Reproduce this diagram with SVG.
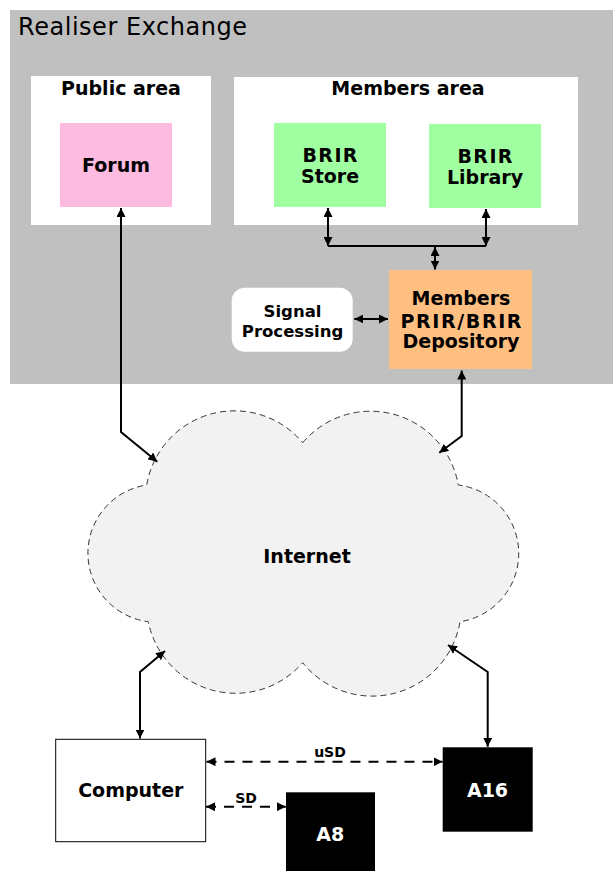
<svg xmlns="http://www.w3.org/2000/svg" width="613" height="871" viewBox="0 0 613 871">
<style>
  .t { font-family: "DejaVu Sans", Verdana, sans-serif; font-weight: bold; font-size: 19px; fill: #000; text-anchor: middle; }
  .w { fill: #fff; }
  .small { font-size: 14px; }
  .sp { font-size: 16.5px; }
  .c { fill: none; stroke: #000; stroke-width: 2; marker-start: url(#ah); marker-end: url(#ah); }
  .d { stroke-dasharray: 10 8; }
</style>
<defs>
  <marker id="ah" viewBox="0 0 10 10" refX="10" refY="5" markerWidth="9" markerHeight="9" markerUnits="userSpaceOnUse" orient="auto-start-reverse">
    <path d="M0,0 L10,5 L0,10 z" fill="#000"/>
  </marker>
</defs>
<rect width="613" height="871" fill="#fff"/>
<g id="realiser-exchange">
  <rect x="10" y="10" width="603" height="374" fill="#c0c0c0"/>
  <text x="18" y="35" font-family="DejaVu Sans, Verdana, sans-serif" font-size="24" textLength="229" fill="#000">Realiser Exchange</text>
</g>
<g id="public-area">
  <rect x="31" y="76" width="180" height="149" fill="#fff"/>
  <text class="t" x="121" y="95">Public area</text>
</g>
<g id="forum">
  <rect x="60" y="123" width="112" height="84" fill="#fdbcdf"/>
  <text class="t" x="116" y="172">Forum</text>
</g>
<g id="members-area">
  <rect x="234" y="77" width="344" height="148" fill="#fff"/>
  <text class="t" x="408" y="95">Members area</text>
</g>
<g id="brir-store">
  <rect x="274" y="123" width="112" height="84" fill="#a0ffa0"/>
  <text class="t" x="330" y="162" textLength="55">BRIR</text>
  <text class="t" x="330" y="183">Store</text>
</g>
<g id="brir-library">
  <rect x="429" y="124" width="112" height="84" fill="#a0ffa0"/>
  <text class="t" x="485" y="162.5" textLength="55">BRIR</text>
  <text class="t" x="485" y="184">Library</text>
</g>
<g id="depository">
  <rect x="389" y="270" width="143" height="99" fill="#ffbf80"/>
  <text class="t" x="461" y="305">Members</text>
  <text class="t" x="461" y="328.3" textLength="121">PRIR/BRIR</text>
  <text class="t" x="461" y="348.3">Depository</text>
</g>
<g id="signal-processing">
  <rect x="231.7" y="287.7" width="121" height="64" rx="13" ry="13" fill="#fff"/>
  <text class="t sp" x="292.5" y="316.7">Signal</text>
  <text class="t sp" x="292.5" y="337">Processing</text>
</g>
<g id="internet">
  <path d="M302.7 442.7 A89 89 0 0 1 458.3 485 A69 69 0 0 1 460 621.7 A89 89 0 0 1 302.7 662.7 A89 89 0 0 1 148.3 621.7 A69 69 0 0 1 146.7 485 A89 89 0 0 1 302.7 442.7 Z" fill="#f2f2f2" stroke="#333" stroke-width="1" stroke-dasharray="6 4"/>
  <text class="t" x="307" y="562.7">Internet</text>
</g>
<g id="computer">
  <rect x="55.7" y="739.3" width="150" height="102.4" fill="#fff" stroke="#000" stroke-width="1"/>
  <text class="t" x="130.8" y="797.3">Computer</text>
</g>
<g id="a16">
  <rect x="442.7" y="747.3" width="90" height="84.4" fill="#000"/>
  <text class="t w" x="487.5" y="796.7">A16</text>
</g>
<g id="a8">
  <rect x="286" y="792.3" width="89" height="78.7" fill="#000"/>
  <text class="t w" x="330.3" y="841">A8</text>
</g>
<g id="connectors">
  <path class="c" d="M328 208 L328 246"/>
  <path class="c" d="M486 209 L486 246"/>
  <path d="M328 246 L486 246" stroke="#000" stroke-width="2" fill="none"/>
  <path class="c" d="M435 247 L435 269.5"/>
  <path class="c" d="M354.3 319 L388 319"/>
  <path class="c" d="M121 208 L121 432 L157.3 461.7"/>
  <path class="c" d="M461.7 370.5 L461.7 436 L439.3 452.7"/>
  <path class="c" d="M140 738.5 L140 672 L165 651"/>
  <path class="c" d="M487.7 746.8 L487.7 672 L448 645"/>
  <path class="c d" d="M206.5 761.7 L442.5 761.7"/>
  <path class="c d" d="M206 806.7 L285.8 806.7"/>
  <text class="t small" x="330" y="757.3">uSD</text>
  <text class="t small" x="246" y="802.7">SD</text>
</g>
</svg>
